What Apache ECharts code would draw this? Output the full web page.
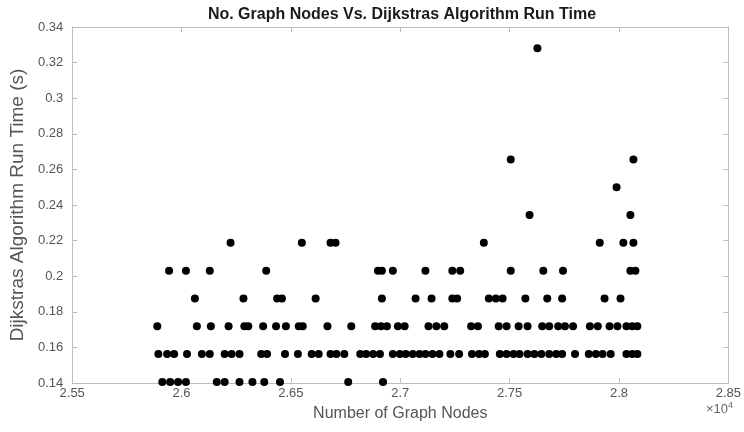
<!DOCTYPE html>
<html>
<head>
<meta charset="utf-8">
<script src="https://cdn.jsdelivr.net/npm/echarts@6/dist/echarts.min.js"></script>
<style>html,body{margin:0;padding:0;background:#fff}#c{width:744px;height:432px}</style>
</head>
<body>
<div id="c"></div>
<script>
// Run-time levels (s) and node counts
var xTicks = [25500, 26000, 26500, 27000, 27500, 28000, 28500];
var yTicks = [0.14, 0.16, 0.18, 0.2, 0.22, 0.24, 0.26, 0.28, 0.3, 0.32, 0.34];

var nodes_t140 = [25912, 25948, 25984, 26020, 26161, 26197, 26265, 26324, 26378, 26450, 26762, 26921];
var nodes_t156 = [25894, 25934, 25966, 26025, 26093, 26129, 26197, 26229, 26265, 26364, 26391, 26473, 26532, 26595, 26627, 26681, 26708, 26744, 26817, 26844, 26876, 26907, 26966, 26998, 27025, 27057, 27088, 27115, 27147, 27179, 27229, 27269, 27328, 27360, 27387, 27455, 27486, 27518, 27545, 27582, 27613, 27645, 27681, 27713, 27740, 27799, 27862, 27894, 27925, 27962, 28034, 28061, 28084];
var nodes_t172 = [25889, 26070, 26134, 26215, 26287, 26305, 26373, 26432, 26477, 26536, 26554, 26667, 26776, 26885, 26912, 26939, 26989, 27020, 27129, 27165, 27201, 27324, 27355, 27450, 27486, 27541, 27582, 27649, 27681, 27722, 27753, 27790, 27867, 27903, 27957, 27993, 28034, 28061, 28084];
var nodes_t188 = [26061, 26283, 26437, 26459, 26613, 26916, 27070, 27143, 27238, 27260, 27405, 27437, 27468, 27572, 27672, 27740, 27934, 28007];
var nodes_t203 = [25943, 26020, 26129, 26387, 26898, 26916, 26966, 27115, 27238, 27274, 27505, 27654, 27744, 28052, 28075];
var nodes_t219 = [26224, 26550, 26681, 26704, 27382, 27912, 28020, 28066];
var nodes_t234 = [27591, 28052];
var nodes_t250 = [27989];
var nodes_t266 = [27505, 28066];
var nodes_t328 = [27627];

var levels = [0.140625, 0.15625, 0.171875, 0.1875, 0.203125, 0.21875, 0.234375, 0.25, 0.265625, 0.328125];
var nodeGroups = [nodes_t140, nodes_t156, nodes_t172, nodes_t188, nodes_t203, nodes_t219, nodes_t234, nodes_t250, nodes_t266, nodes_t328];

var points = [];
nodeGroups.forEach(function (g, i) {
  g.forEach(function (n) { points.push([n, levels[i]]); });
});

var FONT = 'Liberation Sans, Arial, Helvetica, sans-serif';
var AXIS_COLOR = '#bdbdbd';
var fmt = function (v) { return String(parseFloat(v.toFixed(4))); };

var chart = echarts.init(document.getElementById('c'));
chart.setOption({
  animation: false,
  backgroundColor: '#ffffff',
  title: {
    text: 'No. Graph Nodes Vs. Dijkstras Algorithm Run Time',
    left: 397, top: 2, textAlign: 'center',
    textStyle: { fontFamily: FONT, fontSize: 16, fontWeight: 'bold', color: '#1a1a1a' }
  },
  grid: { left: 66, right: 15, top: 27, bottom: 49, containLabel: false },
  xAxis: [{
    type: 'value', min: xTicks[0], max: xTicks[xTicks.length - 1], interval: 500,
    name: 'Number of Graph Nodes', nameLocation: 'middle', nameGap: 23,
    nameTextStyle: { fontFamily: FONT, fontSize: 16, color: '#555' },
    axisLine: { show: true, lineStyle: { color: AXIS_COLOR, width: 1 } },
    axisTick: { show: true, inside: true, length: 5, lineStyle: { color: AXIS_COLOR } },
    axisLabel: { fontFamily: FONT, fontSize: 13, color: '#555', margin: 4,
      formatter: function (v) { return fmt(v / 10000); } },
    splitLine: { show: false }
  }, {
    type: 'value', position: 'top', min: xTicks[0], max: xTicks[xTicks.length - 1], interval: 500,
    axisLine: { show: true, lineStyle: { color: AXIS_COLOR, width: 1 } },
    axisTick: { show: true, inside: true, length: 5, lineStyle: { color: AXIS_COLOR } },
    axisLabel: { show: false }, splitLine: { show: false }
  }],
  yAxis: [{
    type: 'value', min: yTicks[0], max: yTicks[yTicks.length - 1], interval: 0.02,
    name: 'Dijkstras Algorithm Run Time (s)', nameLocation: 'middle', nameGap: 40,
    nameTextStyle: { fontFamily: FONT, fontSize: 19, color: '#555' },
    axisLine: { show: true, lineStyle: { color: AXIS_COLOR, width: 1 } },
    axisTick: { show: true, inside: true, length: 5, lineStyle: { color: AXIS_COLOR } },
    axisLabel: { fontFamily: FONT, fontSize: 13, color: '#555', margin: 9, formatter: fmt },
    splitLine: { show: false }
  }, {
    type: 'value', position: 'right', min: yTicks[0], max: yTicks[yTicks.length - 1], interval: 0.02,
    axisLine: { show: true, lineStyle: { color: AXIS_COLOR, width: 1 } },
    axisTick: { show: true, inside: true, length: 5, lineStyle: { color: AXIS_COLOR } },
    axisLabel: { show: false }, splitLine: { show: false }
  }],
  graphic: [{
    type: 'text', left: 706, top: 401,
    style: {
      text: '×10{s|4}', fontFamily: FONT, fontSize: 13, fill: '#666',
      rich: { s: { fontSize: 9, verticalAlign: 'top', padding: [0, 0, 8, 0], fill: '#666' } }
    }
  }],
  series: [{
    type: 'scatter', xAxisIndex: 0, yAxisIndex: 0,
    data: points, symbol: 'circle', symbolSize: 8,
    itemStyle: { color: '#000', opacity: 1 }
  }]
});
</script>
</body>
</html>
